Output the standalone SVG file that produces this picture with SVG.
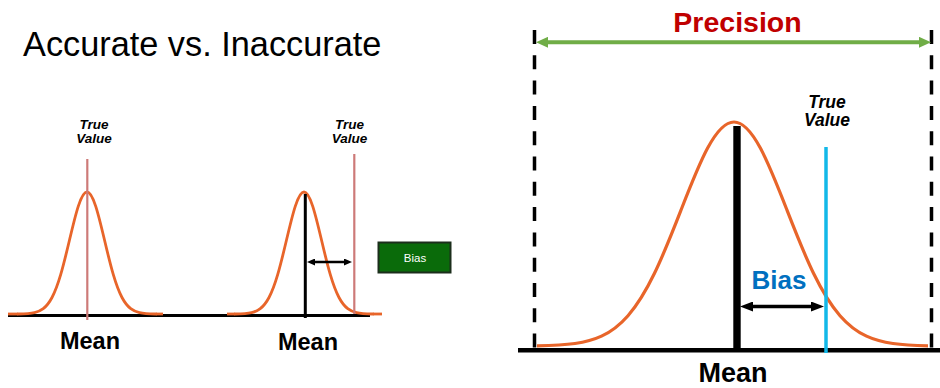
<svg xmlns="http://www.w3.org/2000/svg" width="940" height="388" viewBox="0 0 940 388">
  <style>
    text { font-family: "Liberation Sans", Arial, sans-serif; }
    .title { font-size: 34.3px; fill: #000; }
    .mean-s { font-size: 23.5px; font-weight: bold; fill: #000; text-anchor: middle; }
    .mean-l { font-size: 27px; font-weight: bold; fill: #000; text-anchor: middle; }
    .tv-s { font-size: 13.5px; font-weight: bold; font-style: italic; fill: #000; text-anchor: middle; }
    .tv-l { font-size: 17.5px; font-weight: bold; font-style: italic; fill: #000; text-anchor: middle; }
    .curve { fill: none; stroke: #e8652a; stroke-width: 2.8; vector-effect: non-scaling-stroke; stroke-linejoin: round; }
    .tail { fill: none; stroke: #e8652a; stroke-width: 2.8; }
    .tvline { stroke: #cd7a78; stroke-width: 2.2; }
    .base { stroke: #000; stroke-width: 3.2; }
    .dash { stroke: #000; stroke-width: 3.5; stroke-dasharray: 14 11.3; }
  </style>
  <defs>
    <clipPath id="rclip"><rect x="537" y="0" width="391" height="388"/></clipPath>
    <marker id="headS" viewBox="0 0 8 7" markerWidth="8" markerHeight="7" refX="3" refY="3.5" markerUnits="userSpaceOnUse" orient="auto-start-reverse">
      <path d="M0,0 L8,3.5 L0,7 z" fill="#000"/>
    </marker>
    <marker id="headL" viewBox="0 0 13 10" markerWidth="13" markerHeight="10" refX="5" refY="5" markerUnits="userSpaceOnUse" orient="auto-start-reverse">
      <path d="M0,0 L13,5 L0,10 z" fill="#000"/>
    </marker>
    <marker id="headG" viewBox="0 0 12 11" markerWidth="12" markerHeight="11" refX="4" refY="5.5" markerUnits="userSpaceOnUse" orient="auto-start-reverse">
      <path d="M0,0 L12,5.5 L0,11 z" fill="#70ad47"/>
    </marker>
  </defs>

  <rect x="0" y="0" width="940" height="388" fill="#fff"/>

  <g id="title">
    <text class="title" x="23" y="56">Accurate vs. Inaccurate</text>
  </g>

  <g id="left-axis">
    <line class="base" x1="8" y1="315.5" x2="370" y2="315.5"/>
  </g>

  <g id="accurate">
    <path class="curve" vector-effect="non-scaling-stroke" transform="translate(87 314) scale(17.5 122)" d="M -4 0 C -3.667 -0.0007 -3.333 0 -3 -0.0111 C -2.8333 -0.0167 -2.6667 -0.0256 -2.5 -0.0439 C -2.3333 -0.0622 -2.1667 -0.0902 -2 -0.1353 C -1.8333 -0.1804 -1.6667 -0.2435 -1.5 -0.3247 C -1.3333 -0.4059 -1.1667 -0.5054 -1 -0.6065 C -0.8333 -0.7076 -0.6667 -0.809 -0.5 -0.8825 C -0.3333 -0.956 -0.1667 -1 0 -1 C 0.1667 -1 0.3333 -0.956 0.5 -0.8825 C 0.6667 -0.809 0.8333 -0.7076 1 -0.6065 C 1.1667 -0.5054 1.3333 -0.4059 1.5 -0.3247 C 1.6667 -0.2435 1.8333 -0.1804 2 -0.1353 C 2.1667 -0.0902 2.3333 -0.0622 2.5 -0.0439 C 2.6667 -0.0256 2.8333 -0.0167 3 -0.0111 C 3.333 0 3.667 -0.0007 4 0"/>
    <line class="tail" x1="8" y1="314" x2="17.5" y2="314"/>
    <line class="tail" x1="156.5" y1="314" x2="163" y2="314"/>
    <line class="tvline" x1="87.3" y1="159" x2="87.3" y2="320"/>
    <text class="tv-s" x="94" y="129.3">True</text>
    <text class="tv-s" x="94" y="143.3">Value</text>
    <text class="mean-s" x="90" y="349">Mean</text>
  </g>

  <g id="inaccurate">
    <path class="curve" vector-effect="non-scaling-stroke" transform="translate(304 314) scale(17.5 122)" d="M -4 0 C -3.667 -0.0007 -3.333 0 -3 -0.0111 C -2.8333 -0.0167 -2.6667 -0.0256 -2.5 -0.0439 C -2.3333 -0.0622 -2.1667 -0.0902 -2 -0.1353 C -1.8333 -0.1804 -1.6667 -0.2435 -1.5 -0.3247 C -1.3333 -0.4059 -1.1667 -0.5054 -1 -0.6065 C -0.8333 -0.7076 -0.6667 -0.809 -0.5 -0.8825 C -0.3333 -0.956 -0.1667 -1 0 -1 C 0.1667 -1 0.3333 -0.956 0.5 -0.8825 C 0.6667 -0.809 0.8333 -0.7076 1 -0.6065 C 1.1667 -0.5054 1.3333 -0.4059 1.5 -0.3247 C 1.6667 -0.2435 1.8333 -0.1804 2 -0.1353 C 2.1667 -0.0902 2.3333 -0.0622 2.5 -0.0439 C 2.6667 -0.0256 2.8333 -0.0167 3 -0.0111 C 3.333 0 3.667 -0.0007 4 0"/>
    <line class="tail" x1="227" y1="314" x2="234.5" y2="314"/>
    <line class="tail" x1="373.5" y1="314" x2="382" y2="314"/>
    <line x1="305.3" y1="194" x2="305.3" y2="318" stroke="#000" stroke-width="3"/>
    <line class="tvline" x1="354.3" y1="154" x2="354.3" y2="314"/>
    <text class="tv-s" x="349.5" y="129.3">True</text>
    <text class="tv-s" x="349.5" y="143.3">Value</text>
    <text class="mean-s" x="308" y="350">Mean</text>
  </g>

  <g id="bias-box">
    <rect x="378.5" y="242.5" width="72" height="30" fill="#0a6b0a" stroke="#1c2e1c" stroke-width="2"/>
    <text x="415" y="261.5" font-size="11.5" fill="#fff" text-anchor="middle">Bias</text>
  </g>

  <g id="precision-panel">
    <line class="dash" x1="534.5" y1="30" x2="534.5" y2="350"/>
    <line class="dash" x1="931.5" y1="30" x2="931.5" y2="350"/>
    <text x="737.5" y="32" font-size="28.5" font-weight="bold" fill="#c00000" text-anchor="middle">Precision</text>
    <line x1="518" y1="350.3" x2="940" y2="350.3" stroke="#000" stroke-width="4.5"/>
    <g clip-path="url(#rclip)">
      <path class="curve" vector-effect="non-scaling-stroke" style="stroke-width:3.2" transform="translate(734 346) scale(53 224)" d="M -4 0 C -3.667 -0.0007 -3.333 0 -3 -0.0111 C -2.8333 -0.0167 -2.6667 -0.0256 -2.5 -0.0439 C -2.3333 -0.0622 -2.1667 -0.0902 -2 -0.1353 C -1.8333 -0.1804 -1.6667 -0.2435 -1.5 -0.3247 C -1.3333 -0.4059 -1.1667 -0.5054 -1 -0.6065 C -0.8333 -0.7076 -0.6667 -0.809 -0.5 -0.8825 C -0.3333 -0.956 -0.1667 -1 0 -1 C 0.1667 -1 0.3333 -0.956 0.5 -0.8825 C 0.6667 -0.809 0.8333 -0.7076 1 -0.6065 C 1.1667 -0.5054 1.3333 -0.4059 1.5 -0.3247 C 1.6667 -0.2435 1.8333 -0.1804 2 -0.1353 C 2.1667 -0.0902 2.3333 -0.0622 2.5 -0.0439 C 2.6667 -0.0256 2.8333 -0.0167 3 -0.0111 C 3.333 0 3.667 -0.0007 4 0"/>
    </g>
    <line x1="737" y1="126" x2="737" y2="350" stroke="#000" stroke-width="7.4"/>
    <line x1="826" y1="147" x2="826" y2="353" stroke="#12b8e8" stroke-width="3.5"/>
    <text class="tv-l" x="827" y="108">True</text>
    <text class="tv-l" x="827" y="125.7">Value</text>
    <text x="779" y="289" font-size="26" font-weight="bold" fill="#0070c0" text-anchor="middle">Bias</text>
    <text class="mean-l" x="733" y="382">Mean</text>
  </g>

  <g id="connectors">
    <line x1="312" y1="262" x2="347" y2="262" stroke="#000" stroke-width="2.5" marker-start="url(#headS)" marker-end="url(#headS)"/>
    <line x1="748" y1="306.5" x2="816" y2="306.5" stroke="#000" stroke-width="3.5" marker-start="url(#headL)" marker-end="url(#headL)"/>
    <line x1="544" y1="42.3" x2="923" y2="42.3" stroke="#70ad47" stroke-width="4" marker-start="url(#headG)" marker-end="url(#headG)"/>
  </g>
</svg>
